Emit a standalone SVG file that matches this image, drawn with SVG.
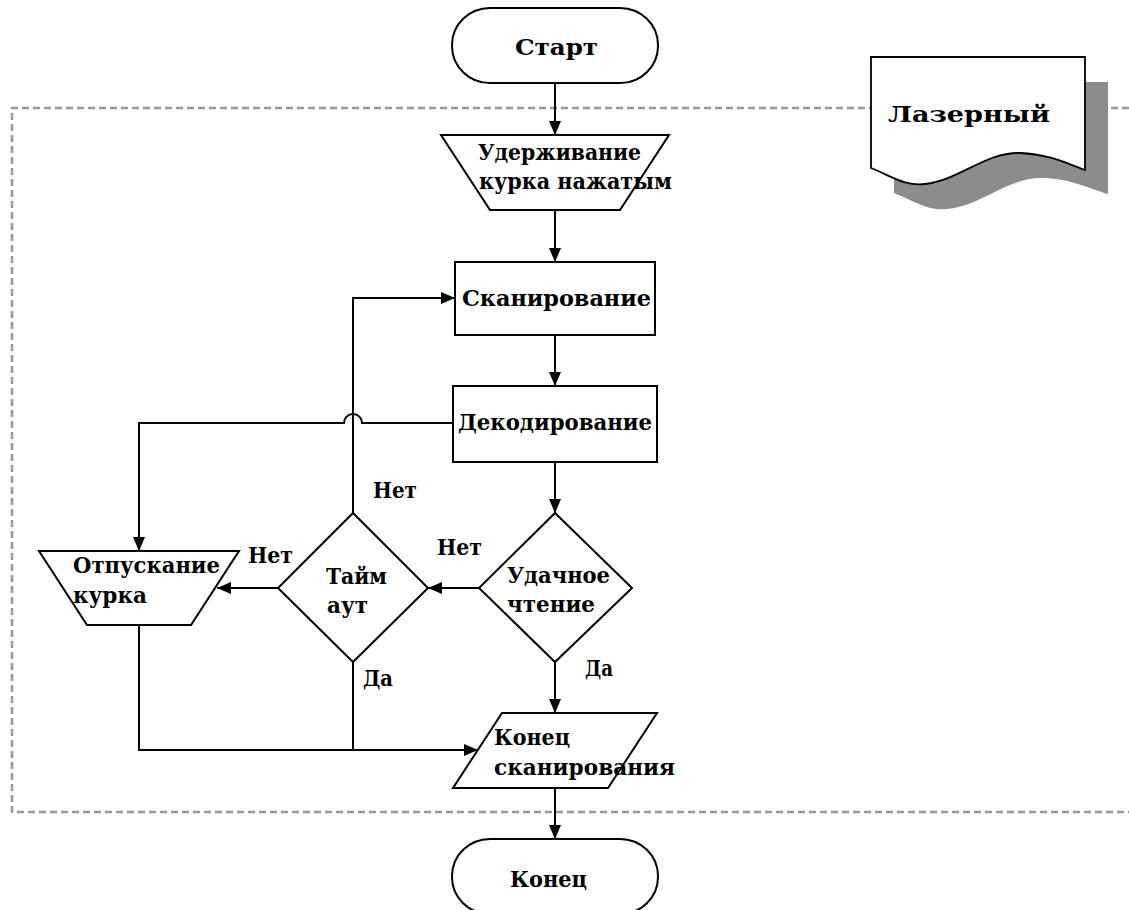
<svg xmlns="http://www.w3.org/2000/svg" width="1129" height="910" viewBox="0 0 1129 910">
<style>
.s{fill:#fff;stroke:#000;stroke-width:2}
.c{fill:none;stroke:#000;stroke-width:2}
text{font-family:"DejaVu Serif","Liberation Serif",serif;font-weight:bold;font-size:23px;fill:#000}
</style>
<defs>
<marker id="a" viewBox="0 0 14 12" refX="14" refY="6" markerWidth="14" markerHeight="12" markerUnits="userSpaceOnUse" orient="auto">
<path d="M0,0 L14,6 L0,12 Z" fill="#000"/>
</marker>
</defs>
<rect width="1129" height="910" fill="#fff"/>
<path d="M1129,108 H12 V812 H1129" fill="none" stroke="#999" stroke-width="2.5" stroke-dasharray="7 4"/>
<g id="laser">
<path d="M894,82 H1108 V194 C1093,190 1073,179 1043,178 C1008,177 983,205 948,209 C928,211 918,203 894,193 Z" fill="#8c8c8c"/>
<path d="M871,57 H1085 V170 C1070,165 1050,154 1020,153 C985,152 960,180 925,184 C905,186 895,178 871,168 Z" fill="#fff" stroke="#000" stroke-width="1.8"/>
<text x="888" y="122" textLength="162" lengthAdjust="spacingAndGlyphs" font-size="25">Лазерный</text>
</g>
<g id="connectors">
<path class="c" d="M555,83 V135" marker-end="url(#a)"/>
<path class="c" d="M555,210 V262" marker-end="url(#a)"/>
<path class="c" d="M555,335 V386" marker-end="url(#a)"/>
<path class="c" d="M555,462 V513" marker-end="url(#a)"/>
<path class="c" d="M479,588 H428" marker-end="url(#a)"/>
<path class="c" d="M278,588 H217" marker-end="url(#a)"/>
<path class="c" d="M353,513 V298 H455" marker-end="url(#a)"/>
<path class="c" d="M453,423 H362 A9,9 0 0 0 344,423 H139 V551" marker-end="url(#a)"/>
<path class="c" d="M555,662 V713" marker-end="url(#a)"/>
<path class="c" d="M139,625 V750 H478" marker-end="url(#a)"/>
<path class="c" d="M353,662 V750"/>
<path class="c" d="M555,788 V839" marker-end="url(#a)"/>
<text x="373" y="498" textLength="44" lengthAdjust="spacingAndGlyphs">Нет</text>
<text x="248" y="563" textLength="45" lengthAdjust="spacingAndGlyphs">Нет</text>
<text x="437" y="555" textLength="45" lengthAdjust="spacingAndGlyphs">Нет</text>
<text x="363" y="686" textLength="30" lengthAdjust="spacingAndGlyphs">Да</text>
<text x="585" y="676" textLength="28" lengthAdjust="spacingAndGlyphs">Да</text>
</g>
<g id="start">
<rect class="s" x="452" y="8" width="206" height="75" rx="38" ry="37"/>
<text x="515" y="55" textLength="83" lengthAdjust="spacingAndGlyphs">Старт</text>
</g>
<g id="hold">
<path class="s" d="M441,135 H669 L620,210 H490 Z"/>
<text x="478" y="160" textLength="163" lengthAdjust="spacingAndGlyphs">Удерживание</text>
<text x="479" y="189" textLength="193" lengthAdjust="spacingAndGlyphs">курка нажатым</text>
</g>
<g id="scan">
<rect class="s" x="455" y="262" width="200" height="73"/>
<text x="462" y="306" textLength="189" lengthAdjust="spacingAndGlyphs">Сканирование</text>
</g>
<g id="decode">
<rect class="s" x="453" y="386" width="204" height="76"/>
<text x="458" y="430" textLength="194" lengthAdjust="spacingAndGlyphs">Декодирование</text>
</g>
<g id="success">
<path class="s" d="M555,513 L632,588 L555,662 L479,588 Z"/>
<text x="507" y="583" textLength="103" lengthAdjust="spacingAndGlyphs">Удачное</text>
<text x="507" y="612" textLength="88" lengthAdjust="spacingAndGlyphs">чтение</text>
</g>
<g id="timeout">
<path class="s" d="M353,513 L428,588 L353,662 L278,588 Z"/>
<text x="326" y="584" textLength="61" lengthAdjust="spacingAndGlyphs">Тайм</text>
<text x="327" y="613" textLength="41" lengthAdjust="spacingAndGlyphs">аут</text>
</g>
<g id="release">
<path class="s" d="M39,551 H239 L191,625 H87 Z"/>
<text x="73" y="573" textLength="147" lengthAdjust="spacingAndGlyphs">Отпускание</text>
<text x="73" y="603" textLength="74" lengthAdjust="spacingAndGlyphs">курка</text>
</g>
<g id="scanend">
<path class="s" d="M502,713 H657 L608,788 H453 Z"/>
<text x="494" y="745" textLength="76" lengthAdjust="spacingAndGlyphs">Конец</text>
<text x="494" y="775" textLength="181" lengthAdjust="spacingAndGlyphs">сканирования</text>
</g>
<g id="end">
<rect class="s" x="452" y="839" width="206" height="75" rx="38" ry="37"/>
<text x="510" y="887" textLength="77" lengthAdjust="spacingAndGlyphs">Конец</text>
</g>
</svg>
